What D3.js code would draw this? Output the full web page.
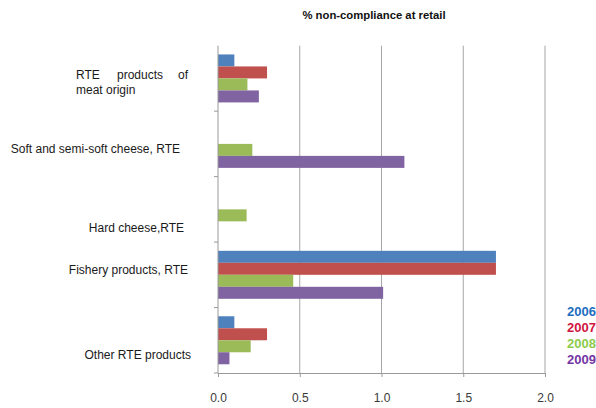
<!DOCTYPE html>
<html><head><meta charset="utf-8">
<script src="https://cdn.jsdelivr.net/npm/d3@7"></script>
<style>body{margin:0;background:#fff}svg{display:block}text{font-family:"Liberation Sans",Arial,sans-serif}</style>
</head><body>
<svg id="c" width="596" height="408"></svg>
<script>
const categories = ["RTE products of meat origin","Soft and semi-soft cheese, RTE","Hard cheese,RTE","Fishery products, RTE","Other RTE products"];
const years = ["2006","2007","2008","2009"];
const v2006 = [0.10, 0, 0, 1.70, 0.10];
const v2007 = [0.30, 0, 0, 1.70, 0.30];
const v2008 = [0.18, 0.21, 0.175, 0.46, 0.20];
const v2009 = [0.25, 1.14, 0, 1.01, 0.07];
const xTicks = [0, 0.5, 1.0, 1.5, 2.0];
const title = "% non-compliance at retail";

const seriesValues = [v2006, v2007, v2008, v2009];
const barColors = ["#4F81BD","#C0504D","#9BBB59","#8064A2"];
const legendColors = ["#1C6EC0","#D0153F","#8CCB4C","#7434A3"];

const svg = d3.select("#c");
const L = 218, R = 545, T = 45.7, B = 373;
const x = d3.scaleLinear().domain([0, 2]).range([L, R]);
const y = d3.scaleBand().domain(categories).range([T, B]).paddingInner(0.267).paddingOuter(0.1335);
const yi = d3.scaleBand().domain(years).range([0, y.bandwidth()]);
const bandStep = (B - T) / categories.length;

// gridlines
svg.append("g").selectAll("line").data(xTicks.slice(1)).join("line")
  .attr("x1", d => x(d)).attr("x2", d => x(d)).attr("y1", T).attr("y2", B)
  .attr("stroke", "#a6a6a6").attr("stroke-width", 1);

// bars
const rows = [];
categories.forEach((c, i) => years.forEach((yr, j) => rows.push({c, yr, j, v: seriesValues[j][i]})));
svg.append("g").selectAll("rect").data(rows.filter(d => d.v > 0)).join("rect")
  .attr("x", x(0)).attr("y", d => y(d.c) + yi(d.yr))
  .attr("width", d => x(d.v) - x(0)).attr("height", yi.bandwidth())
  .attr("fill", d => barColors[d.j]);

// y axis line + ticks at band boundaries
svg.append("line").attr("x1", L).attr("x2", L).attr("y1", T).attr("y2", B).attr("stroke", "#9a9a9a");
svg.append("g").selectAll("line").data(d3.range(1, categories.length + 1)).join("line")
  .attr("x1", L - 4).attr("x2", L).attr("y1", d => T + d * bandStep).attr("y2", d => T + d * bandStep)
  .attr("stroke", "#9a9a9a");

// x axis
const xAxis = d3.axisBottom(x).tickValues(xTicks).tickFormat(d3.format(".1f")).tickSize(4).tickPadding(16);
const gx = svg.append("g").attr("transform", `translate(0,${B})`).call(xAxis);
gx.select(".domain").attr("stroke", "#9a9a9a");
gx.selectAll(".tick line").attr("stroke", "#9a9a9a");
gx.selectAll("text").attr("font-size", 12).attr("fill", "#3a3a3a").attr("font-family", "Liberation Sans, Arial, sans-serif");

// category labels
const labelDy = [0, 5, 19, -5, 15];
const labelDx = [0, -9, -5, -1, 2];
const lg = svg.append("g").attr("font-size", 12).attr("fill", "#1a1a1a");
categories.forEach((c, i) => {
  const cy = y(c) + y.bandwidth() / 2 + labelDy[i];
  if (i === 0) {
    const t = lg.append("text").attr("y", cy + 1);
    t.append("tspan").attr("x", 76).text("RTE");
    t.append("tspan").attr("x", 117).text("products");
    t.append("tspan").attr("x", 178).text("of");
    lg.append("text").attr("x", 76).attr("y", cy + 16).text("meat origin");
  } else {
    lg.append("text").attr("x", 189 + labelDx[i]).attr("y", cy + 4).attr("text-anchor", "end").text(c);
  }
});

// title
svg.append("text").attr("x", 374).attr("y", 19).attr("text-anchor", "middle")
  .attr("font-size", 11.3).attr("font-weight", "bold").attr("fill", "#111").text(title);

// legend
svg.append("g").selectAll("text").data(years).join("text")
  .attr("x", 567).attr("y", (d, i) => 316 + i * 16)
  .attr("font-size", 13).attr("font-weight", "bold")
  .attr("fill", (d, i) => legendColors[i]).text(d => d);
</script>
</body></html>
